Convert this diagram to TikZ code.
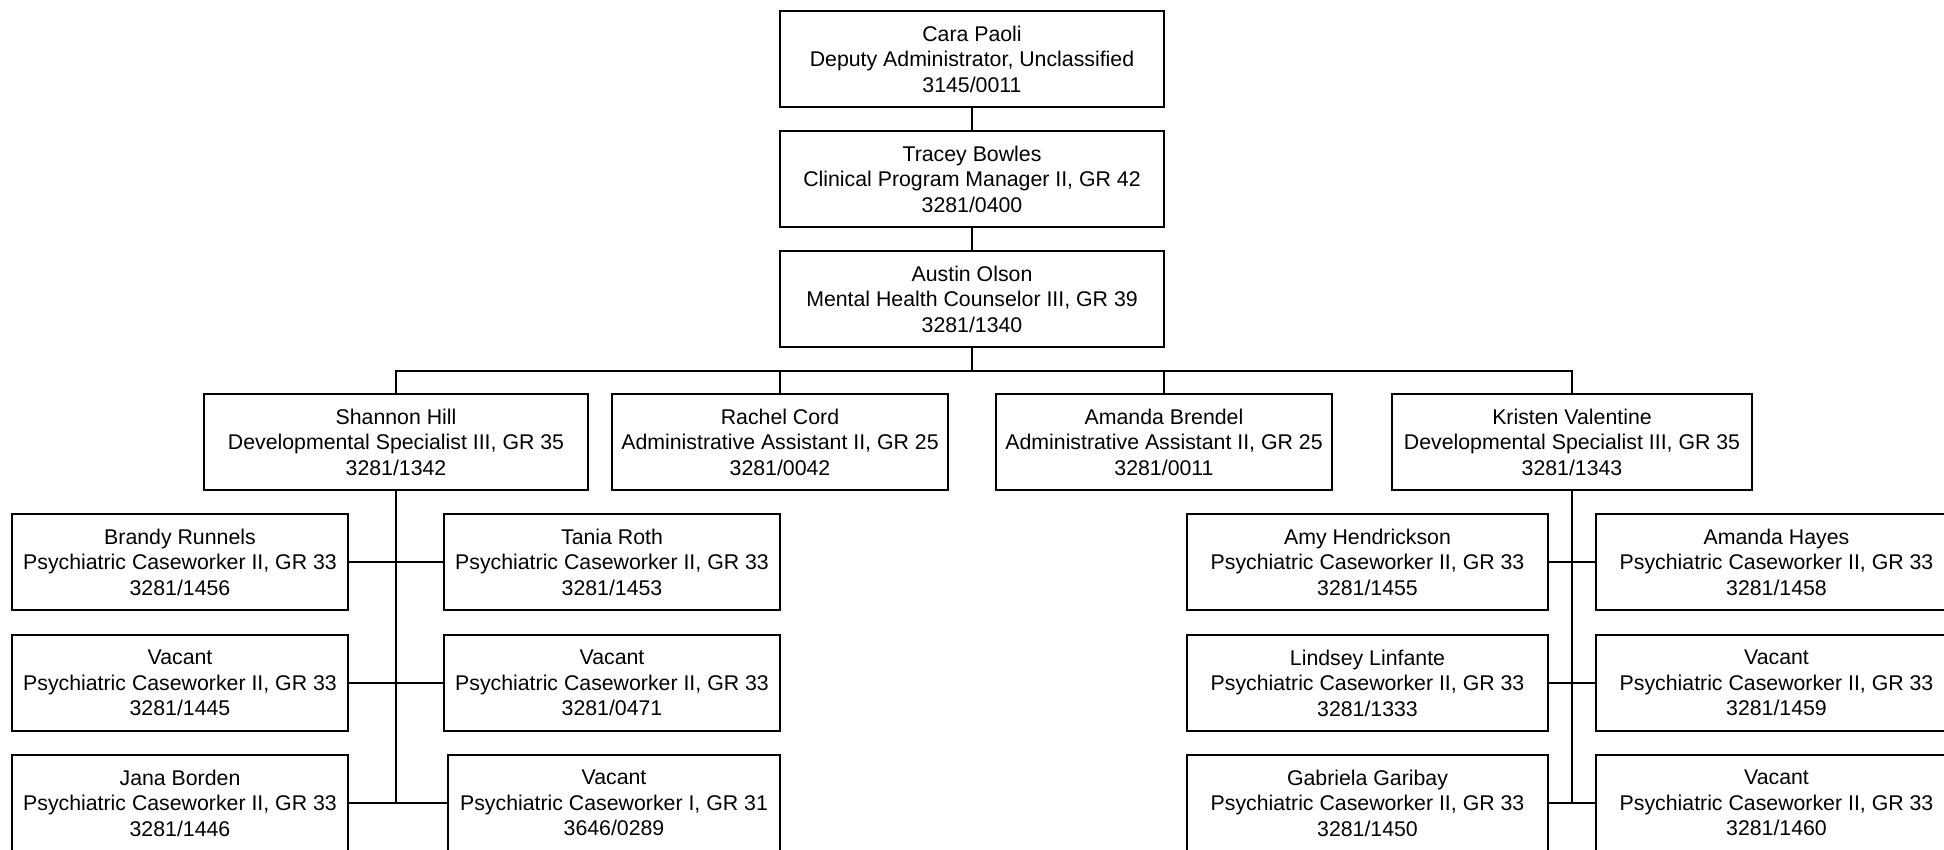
\documentclass[tikz,border=0pt]{standalone}
\usepackage{fontspec}
\setmainfont{Liberation Sans}
\begin{document}
\begin{tikzpicture}[x=1pt,y=-1pt,
  box/.style={draw=black, line width=1.8pt, fill=white, rectangle, inner sep=0pt, align=center,
    minimum height=96pt, font=\fontsize{21.3}{25.5}\selectfont},
  link/.style={draw=black, line width=1.8pt}]
\useasboundingbox (0,0) rectangle (1944,849);
\clip (0,0) rectangle (1944,849);
\fill[white] (0,0) rectangle (1944,849);
% top chain
\node[box, minimum width=384pt] (cara) at (972,59) {Cara Paoli\\Deputy Administrator, Unclassified\\3145/0011};
\node[box, minimum width=384pt] (tracey) at (972,179) {Tracey Bowles\\Clinical Program Manager II, GR 42\\3281/0400};
\node[box, minimum width=384pt] (austin) at (972,299) {Austin Olson\\Mental Health Counselor III, GR 39\\3281/1340};
% level 2
\node[box, minimum width=384pt] (shannon) at (396,442) {Shannon Hill\\Developmental Specialist III, GR 35\\3281/1342};
\node[box, minimum width=336pt] (rachel) at (780,442) {Rachel Cord\\Administrative Assistant II, GR 25\\3281/0042};
\node[box, minimum width=336pt] (amandab) at (1164,442) {Amanda Brendel\\Administrative Assistant II, GR 25\\3281/0011};
\node[box, minimum width=360pt] (kristen) at (1572,442) {Kristen Valentine\\Developmental Specialist III, GR 35\\3281/1343};
% left children
\node[box, minimum width=336pt] (brandy) at (180,562) {Brandy Runnels\\Psychiatric Caseworker II, GR 33\\3281/1456};
\node[box, minimum width=336pt] (tania) at (612,562) {Tania Roth\\Psychiatric Caseworker II, GR 33\\3281/1453};
\node[box, minimum width=336pt] (vacl2) at (180,683) {Vacant\\Psychiatric Caseworker II, GR 33\\3281/1445};
\node[box, minimum width=336pt] (vacr2) at (612,683) {Vacant\\Psychiatric Caseworker II, GR 33\\3281/0471};
\node[box, minimum width=336pt] (jana) at (180,803) {Jana Borden\\Psychiatric Caseworker II, GR 33\\3281/1446};
\node[box, minimum width=332pt] (vacr3) at (614,803) {Vacant\\Psychiatric Caseworker I, GR 31\\3646/0289};
% right children
\node[box, minimum width=361pt] (amy) at (1367.5,562) {Amy Hendrickson\\Psychiatric Caseworker II, GR 33\\3281/1455};
\node[box, minimum width=361pt] (hayes) at (1776.5,562) {Amanda Hayes\\Psychiatric Caseworker II, GR 33\\3281/1458};
\node[box, minimum width=361pt] (lindsey) at (1367.5,683) {Lindsey Linfante\\Psychiatric Caseworker II, GR 33\\3281/1333};
\node[box, minimum width=361pt] (vacr5) at (1776.5,683) {Vacant\\Psychiatric Caseworker II, GR 33\\3281/1459};
\node[box, minimum width=361pt] (gabriela) at (1367.5,803) {Gabriela Garibay\\Psychiatric Caseworker II, GR 33\\3281/1450};
\node[box, minimum width=361pt] (vacr6) at (1776.5,803) {Vacant\\Psychiatric Caseworker II, GR 33\\3281/1460};
% connectors
\coordinate (bar) at (972,371);
\draw[link] (cara.south) -- (tracey.north);
\draw[link] (tracey.south) -- (austin.north);
\draw[link] (austin.south) -- (bar);
\draw[link] (shannon.north) -- (shannon.north |- bar) -- (kristen.north |- bar) -- (kristen.north);
\draw[link] (rachel.north) -- (rachel.north |- bar);
\draw[link] (amandab.north) -- (amandab.north |- bar);
\draw[link] (shannon.south) -- (shannon.south |- jana.east);
\draw[link] (brandy.east) -- (tania.west);
\draw[link] (vacl2.east) -- (vacr2.west);
\draw[link] (jana.east) -- (vacr3.west);
\draw[link] (kristen.south) -- (kristen.south |- gabriela.east);
\draw[link] (amy.east) -- (hayes.west);
\draw[link] (lindsey.east) -- (vacr5.west);
\draw[link] (gabriela.east) -- (vacr6.west);
\end{tikzpicture}
\end{document}
